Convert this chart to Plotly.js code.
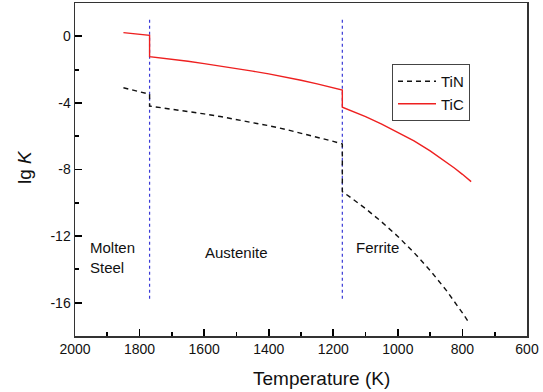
<!DOCTYPE html>
<html>
<head>
<meta charset="utf-8">
<script src="https://cdn.plot.ly/plotly-3.0.1.min.js"></script>
<style>
html,body{margin:0;padding:0;background:#fff;}
#chart{width:543px;height:392px;}
</style>
</head>
<body>
<div id="chart"></div>
<script>
// TiC: lg K vs temperature (K)
const ticT = [1850, 1769, 1769, 1750, 1700, 1650, 1600, 1550, 1500, 1450, 1400, 1350, 1300, 1250, 1200, 1172,
              1172, 1150, 1100, 1050, 1000, 950, 900, 850, 825, 800, 773];
const ticK = [0.22, 0.06, -1.22, -1.26, -1.38, -1.50, -1.64, -1.78, -1.93, -2.09, -2.26, -2.44, -2.64, -2.86, -3.09, -3.23,
              -4.26, -4.43, -4.83, -5.27, -5.75, -6.28, -6.88, -7.54, -7.91, -8.29, -8.73];
// TiN: lg K vs temperature (K)
const tinT = [1850, 1769, 1769, 1750, 1700, 1650, 1600, 1550, 1500, 1450, 1400, 1350, 1300, 1250, 1200, 1172,
              1172, 1150, 1100, 1050, 1000, 950, 900, 850, 825, 800, 783];
const tinK = [-3.09, -3.48, -4.19, -4.24, -4.37, -4.51, -4.66, -4.82, -4.99, -5.18, -5.37, -5.58, -5.81, -6.05, -6.31, -6.47,
              -9.33, -9.63, -10.35, -11.15, -12.02, -12.99, -14.06, -15.26, -15.92, -16.61, -17.11];
// phase boundaries (K)
const boundaryT = [1769, 1172];
const boundaryTop = 1.0;
const boundaryBottom = -15.8;
// ticks
const xTickVals = [2000, 1800, 1600, 1400, 1200, 1000, 800, 600];
const xTickText = ['2000', '1800', '1600', '1400', '1200', '1000', '800', '600'];
const xMinorVals = [1900, 1700, 1500, 1300, 1100, 900, 700];
const yTickVals = [0, -4, -8, -12, -16];
const yTickText = ['0', '-4', '-8', '-12', '-16'];
const yMinorVals = [-2, -6, -10, -14];
// region labels
const regionLabels = ['Molten<br>Steel', 'Austenite', 'Ferrite'];
const regionT = [1960, 1500, 1137];
const regionK = [-13.3, -13.0, -12.7];

const FONT = 'Liberation Sans, Arial, Helvetica, sans-serif';

const traces = [];
boundaryT.forEach(t => {
  traces.push({
    x: [t, t], y: [boundaryTop, boundaryBottom], mode: 'lines',
    line: {color: '#3a3ad6', width: 1.2, dash: 'dot'},
    showlegend: false, hoverinfo: 'skip'
  });
});
traces.push({
  x: tinT, y: tinK, mode: 'lines', name: 'TiN',
  line: {color: '#111111', width: 1.4, dash: '5px,4px'}
});
traces.push({
  x: ticT, y: ticK, mode: 'lines', name: 'TiC',
  line: {color: '#ee2020', width: 1.4}
});

const plotW = 543 - 75 - 16, plotH = 392 - 3 - 56;

const annotations = regionLabels.map((txt, i) => ({
  x: regionT[i], y: regionK[i], xref: 'x', yref: 'y',
  text: txt, showarrow: false, align: 'left',
  xanchor: i === 1 ? 'center' : 'left', yanchor: 'middle',
  font: {family: FONT, size: 15, color: '#111'}
}));
annotations.push({
  x: (321 - 75) / plotW, y: (336 - 378) / plotH, xref: 'paper', yref: 'paper',
  xanchor: 'center', yanchor: 'middle',
  text: 'Temperature (K)', showarrow: false,
  font: {family: FONT, size: 19, color: '#111'}
});
annotations.push({
  x: (24 - 75) / plotW, y: (336 - 167) / plotH, xref: 'paper', yref: 'paper',
  xanchor: 'center', yanchor: 'middle',
  text: 'lg <i>K</i>', showarrow: false, textangle: -90,
  font: {family: FONT, size: 19, color: '#111'}
});

const layout = {
  width: 543, height: 392,
  margin: {l: 75, r: 16, t: 3, b: 56},
  font: {family: FONT, size: 14, color: '#111'},
  showlegend: true,
  legend: {
    x: (392 - 75) / plotW, y: (336 - 64) / plotH, xanchor: 'left', yanchor: 'top',
    bordercolor: '#444', borderwidth: 1, bgcolor: '#fff',
    font: {family: FONT, size: 15, color: '#111'},
    itemwidth: 38,
    tracegroupgap: 0
  },
  xaxis: {
    range: [2000, 600], tickmode: 'array', tickvals: xTickVals, ticktext: xTickText,
    ticks: 'inside', ticklen: 7, tickwidth: 1.8, tickcolor: '#000',
    showline: true, mirror: true, linecolor: '#333', linewidth: 1.5,
    showgrid: false, zeroline: false,
    tickfont: {family: FONT, size: 14, color: '#111'},
    minor: {tickmode: 'array', tickvals: xMinorVals, ticks: 'inside', ticklen: 4, tickwidth: 1.8, tickcolor: '#000'}
  },
  yaxis: {
    range: [-18, 2], tickmode: 'array', tickvals: yTickVals, ticktext: yTickText,
    ticks: 'inside', ticklen: 7, tickwidth: 1.8, tickcolor: '#000',
    showline: true, mirror: true, linecolor: '#333', linewidth: 1.5,
    showgrid: false, zeroline: false,
    tickfont: {family: FONT, size: 14, color: '#111'},
    minor: {tickmode: 'array', tickvals: yMinorVals, ticks: 'inside', ticklen: 4, tickwidth: 1.8, tickcolor: '#000'}
  },
  annotations: annotations
};

Plotly.newPlot('chart', traces, layout, {displayModeBar: false, staticPlot: true});
</script>
</body>
</html>
